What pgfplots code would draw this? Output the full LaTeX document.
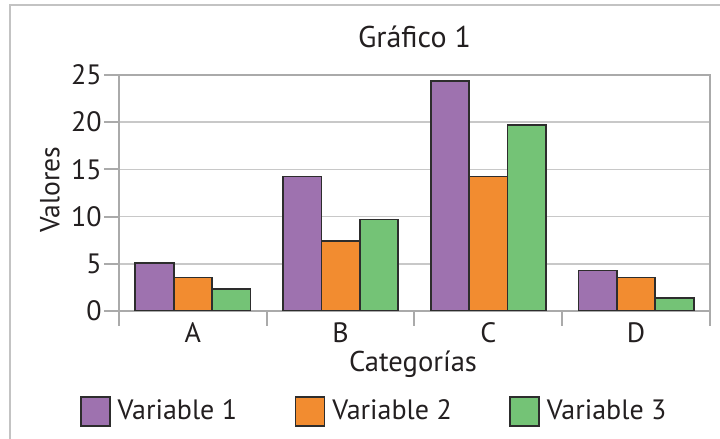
\documentclass[border=0pt]{standalone}
\usepackage{fontspec}
\setmainfont{PT Sans}
\usepackage{pgfplots}
\pgfplotsset{compat=1.18}
\definecolor{vpurple}{RGB}{158,114,175}
\definecolor{vorange}{RGB}{242,140,48}
\definecolor{vgreen}{RGB}{116,195,118}
\definecolor{gridgray}{RGB}{200,200,200}
\definecolor{axgray}{RGB}{170,170,170}
\definecolor{framegray}{RGB}{195,195,195}
\definecolor{txt}{RGB}{35,31,32}
\definecolor{barline}{RGB}{45,45,45}
\pgfplotsset{
  sqlegend/.style={legend image code/.code={\draw[##1, line width=0.8pt] (0pt,-7.25pt) rectangle (14.5pt,7.25pt);}},
}
\begin{document}
\begin{tikzpicture}
\useasboundingbox (-59.5pt,-64pt) rectangle (300.5pt,155.5pt);
\draw[framegray, line width=1.2pt] (-54.5pt,-70pt) -- (-54.5pt,153pt) -- (310pt,153pt);
\begin{axis}[
  at={(0pt,0pt)}, anchor=south west,
  scale only axis, width=295.5pt, height=118pt,
  xmin=-0.5, xmax=3.5, ymin=0, ymax=25,
  ybar=0pt, bar width=0.26,
  xtick={-0.5,0.5,1.5,2.5,3.5}, xticklabels={},
  extra x ticks={0,1,2,3}, extra x tick labels={A,B,C,D},
  extra x tick style={major tick length=0pt, xticklabel style={anchor=base, inner sep=0pt, yshift=-16pt}},
  ytick={0,5,10,15,20,25},
  tick align=outside, tick pos=left,
  major tick length=7.5pt,
  axis line style={axgray, line width=1pt},
  every tick/.style={axgray, line width=1pt},
  ymajorgrids, grid style={gridgray, line width=0.8pt},
  /pgf/number format/assume math mode=true,
  tick label style={font=\fontsize{14}{16}\selectfont, text=txt},
  yticklabel style={anchor=east, inner sep=0pt},
  yticklabel shift=1pt,
  title={Gráfico 1},
  title style={at={(axis description cs:0.5,1)}, anchor=base, yshift=7.5pt, font=\fontsize{15}{17}\selectfont, text=txt},
  xlabel={Categorías},
  xlabel style={at={(axis description cs:0.4975,0)}, anchor=base, yshift=-30.5pt, font=\fontsize{14.3}{16}\selectfont, text=txt},
  ylabel={Valores},
  ylabel style={at={(axis description cs:-0.1168,0.513)}, anchor=center, font=\fontsize{13.8}{16}\selectfont, text=txt},
  legend columns=3,
  legend style={at={(axis description cs:0,0)}, anchor=west, xshift=-19.5pt, yshift=-50.25pt,
    draw=none, fill=none, inner sep=0pt, outer sep=0pt,
    font=\fontsize{14}{16}\selectfont, text=txt,
    /tikz/every even column/.append style={column sep=26.75pt},
    /tikz/every odd column/.append style={column sep=1.5pt}},
]
\addplot[fill=vpurple, draw=barline, line width=0.9pt, sqlegend] coordinates {(0,5.1) (1,14.25) (2,24.35) (3,4.3)};
\addplot[fill=vorange, draw=barline, line width=0.9pt, sqlegend] coordinates {(0,3.55) (1,7.45) (2,14.25) (3,3.55)};
\addplot[fill=vgreen, draw=barline, line width=0.9pt, sqlegend] coordinates {(0,2.35) (1,9.7) (2,19.7) (3,1.4)};
\legend{Variable 1, Variable 2, Variable 3}
\end{axis}
\end{tikzpicture}
\end{document}
